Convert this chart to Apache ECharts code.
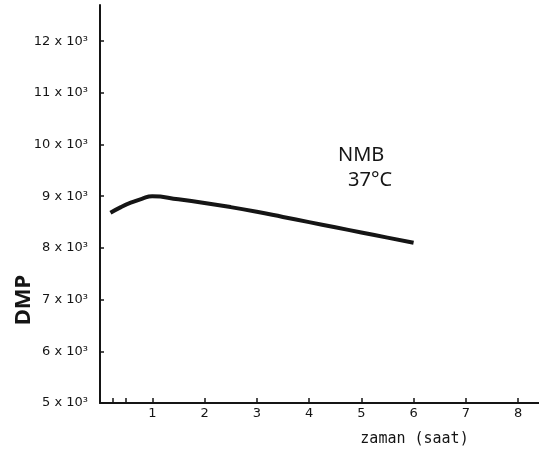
<!DOCTYPE html>
<html>
<head>
    <title>DMP - zaman</title>
    <meta charset="utf-8" />
    <script src="https://cdn.jsdelivr.net/npm/echarts@6/dist/echarts.min.js"></script>
    <style type="text/css">
        html,
        body {
            width: 100%;
            height: 100%;
            margin: 0;
            background: #fff;
        }

        #main {
            width: 539px;
            height: 452px;
        }
    </style>
</head>

<body>
    <div id="main"></div>
    <script>
        // veriler
        var hours = [0.2, 0.4, 0.6, 0.8, 1.0, 1.5, 2.0, 2.5, 3.0, 3.5, 4.0, 4.5, 5.0, 5.5, 6.0];
        var dmp = [8680, 8790, 8880, 8950, 9000, 8940, 8870, 8790, 8700, 8600, 8500, 8400, 8300, 8200, 8100];
        var xTicks = [0.25, 0.5, 1, 2, 3, 4, 5, 6, 7, 8];
        var xLabels = [1, 2, 3, 4, 5, 6, 7, 8];
        var yTicks = [5000, 6000, 7000, 8000, 9000, 10000, 11000, 12000];

        var ink = '#151515';
        var myChart = echarts.init(document.getElementById('main'));

        var option = {
            animation: false,
            grid: {
                left: 100,
                right: 0,
                top: 5,
                bottom: 49
            },
            xAxis: {
                type: 'value',
                min: 0,
                max: 8.4,
                name: 'zaman (saat)',
                nameLocation: 'middle',
                nameGap: 29,
                nameTextStyle: {
                    color: ink,
                    fontFamily: 'DejaVu Sans Mono',
                    fontSize: 15,
                    padding: [0, 0, 0, 190]
                },
                axisLine: { lineStyle: { color: ink, width: 2 } },
                axisTick: {
                    inside: true,
                    length: 5,
                    customValues: xTicks,
                    lineStyle: { color: ink, width: 1.5 }
                },
                axisLabel: {
                    customValues: xLabels,
                    color: ink,
                    fontFamily: 'DejaVu Sans',
                    fontSize: 13,
                    margin: 4
                },
                splitLine: { show: false }
            },
            yAxis: {
                type: 'value',
                min: 5000,
                max: 12700,
                axisLine: { lineStyle: { color: ink, width: 2 } },
                axisTick: {
                    inside: true,
                    length: 4,
                    customValues: yTicks,
                    lineStyle: { color: ink, width: 1.5 }
                },
                axisLabel: {
                    customValues: yTicks,
                    color: ink,
                    fontFamily: 'DejaVu Sans',
                    fontSize: 13,
                    margin: 12,
                    formatter: function (v) {
                        return (v / 1000) + ' x 10³';
                    }
                },
                splitLine: { show: false }
            },
            graphic: [{
                type: 'text',
                x: 24,
                y: 300,
                rotation: Math.PI / 2,
                style: {
                    text: 'DMP',
                    fill: ink,
                    font: 'bold 22px "Noto Sans"',
                    textAlign: 'center',
                    textVerticalAlign: 'middle'
                }
            }, {
                type: 'text',
                x: 338,
                y: 145,
                style: {
                    text: 'NMB',
                    fill: ink,
                    font: '20px "Noto Sans"'
                }
            }, {
                type: 'text',
                x: 348,
                y: 170,
                style: {
                    text: '37°C',
                    fill: ink,
                    font: '20px "Noto Sans"'
                }
            }],
            series: [{
                name: 'NMB 37°C',
                type: 'line',
                smooth: true,
                symbol: 'none',
                lineStyle: { color: ink, width: 4 },
                data: hours.map(function (h, i) { return [h, dmp[i]]; })
            }]
        };

        myChart.setOption(option);
    </script>
</body>
</html>
